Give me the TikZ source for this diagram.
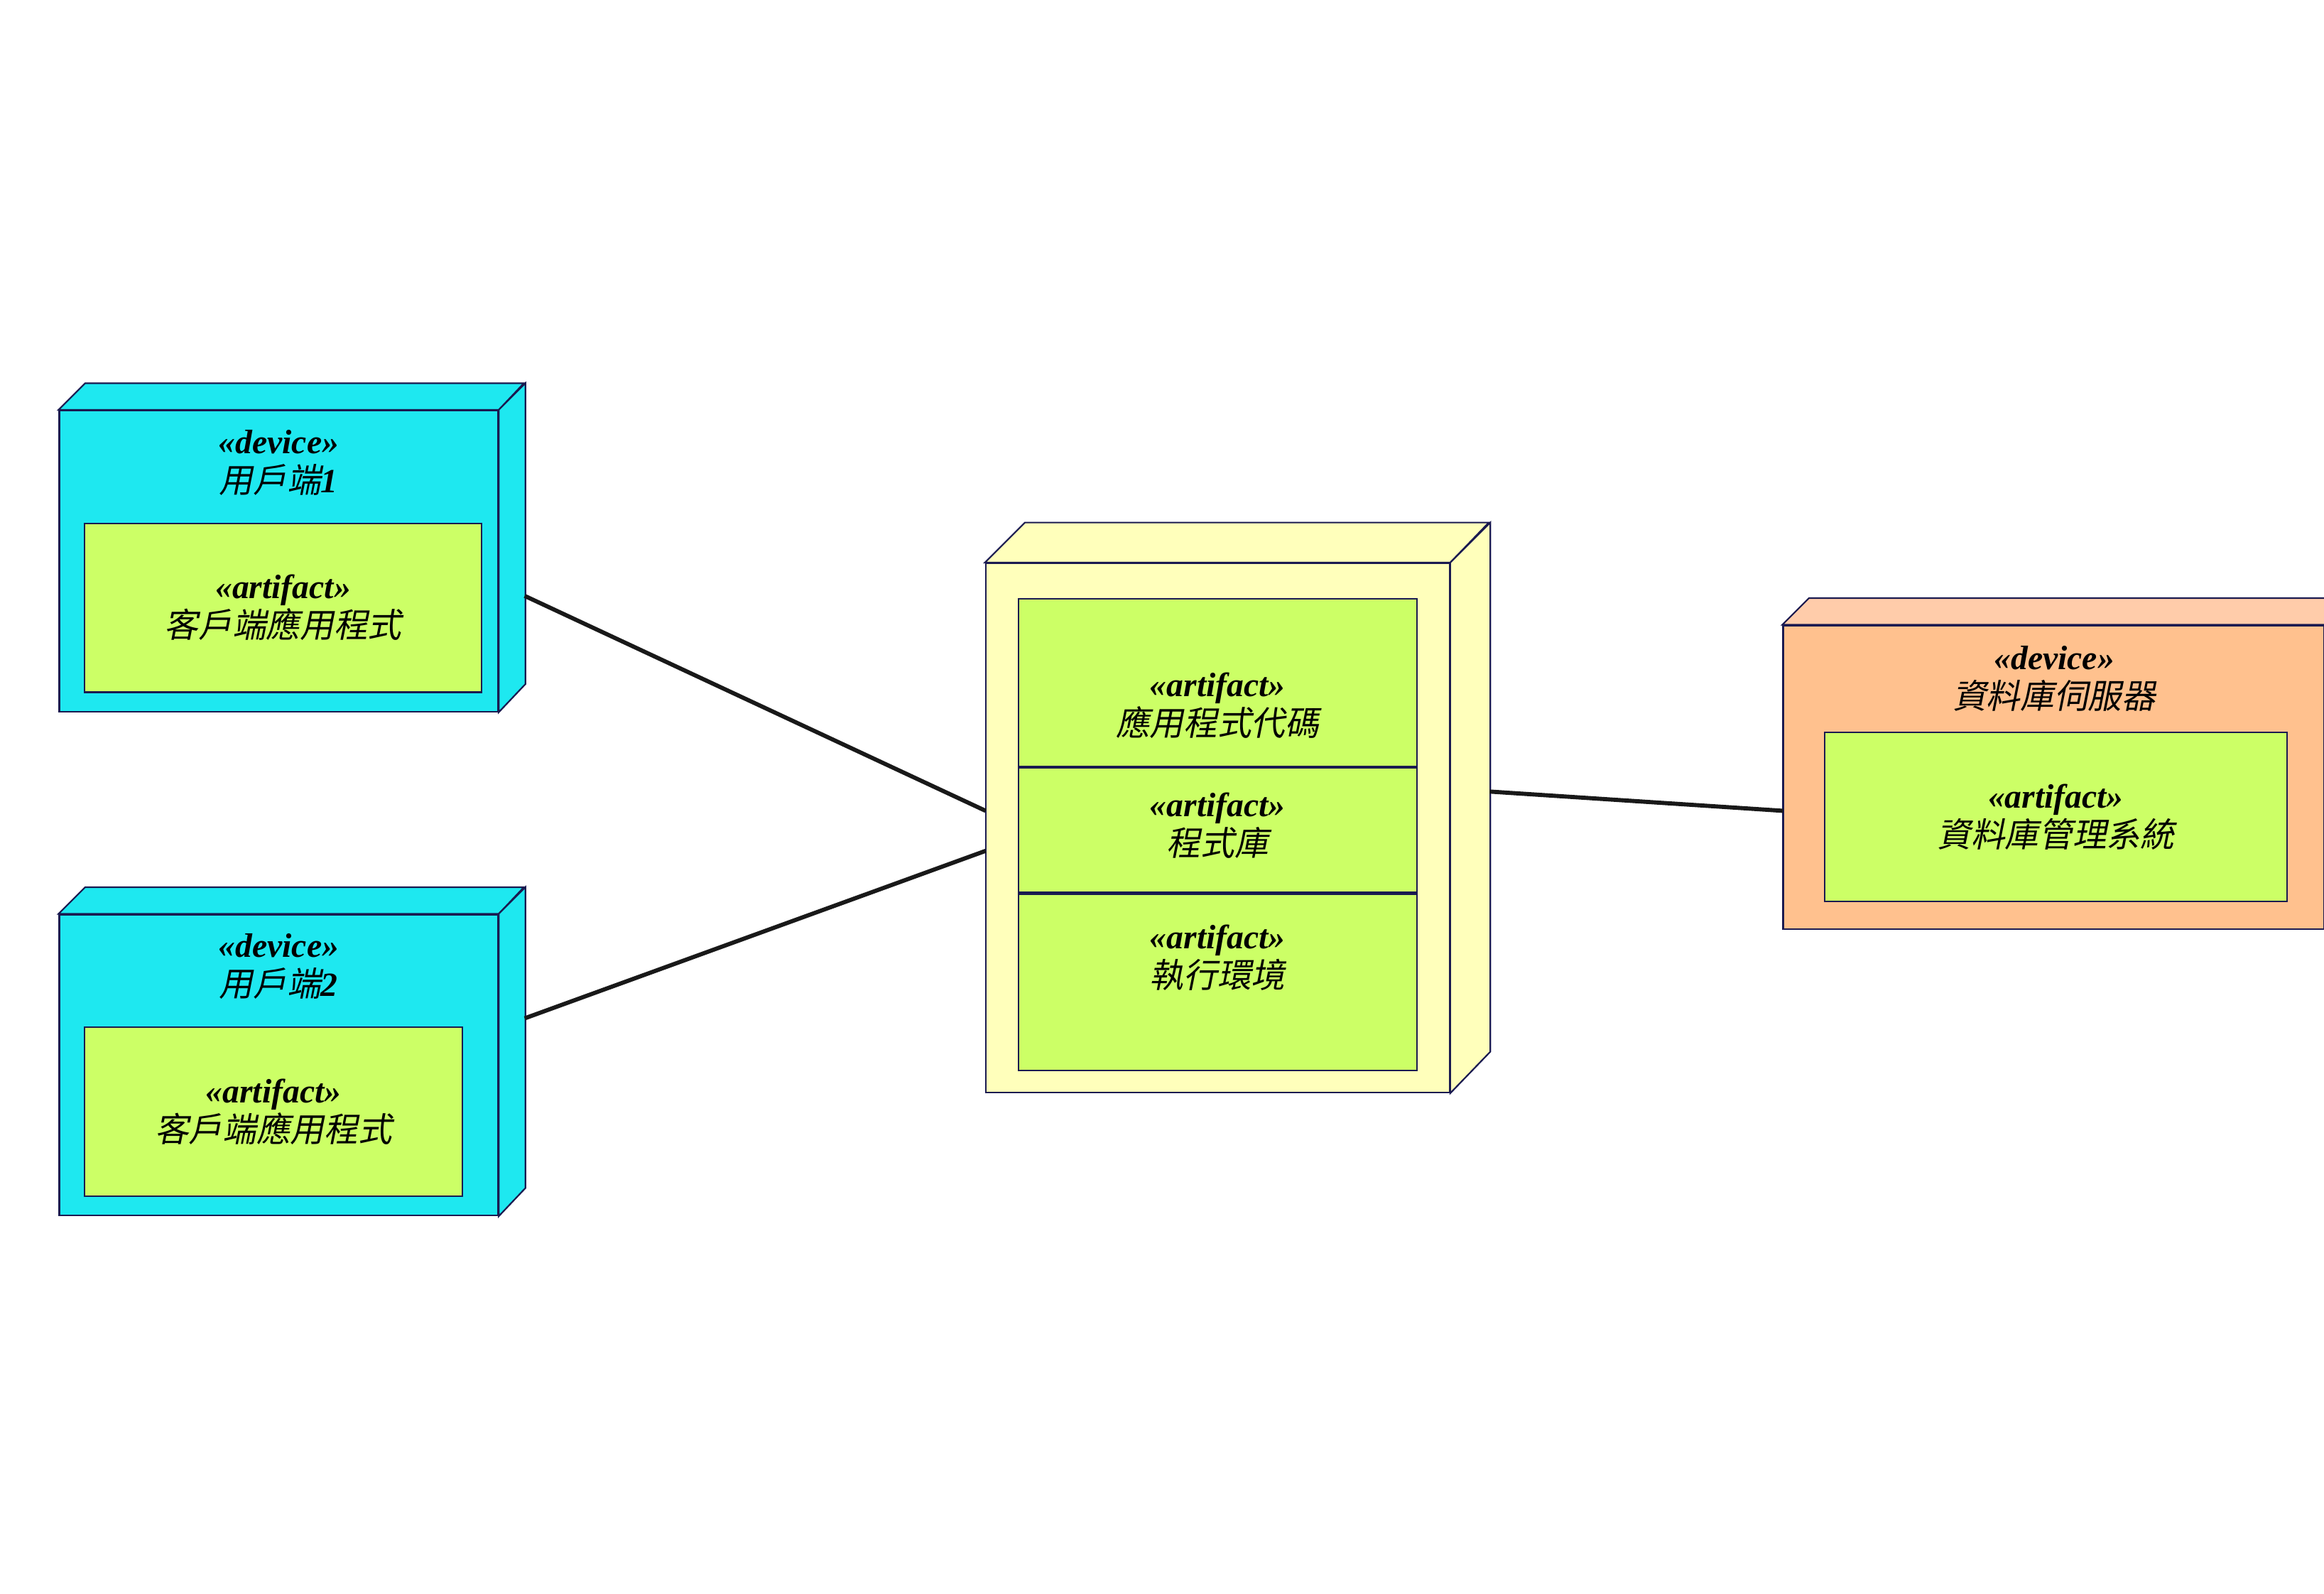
\documentclass[tikz,border=0pt]{standalone}
\usepackage{fontspec}
\setmainfont{Liberation Serif}
\newfontfamily\cjk[FakeSlant=0.2]{Noto Sans CJK TC}
\usetikzlibrary{positioning}
\definecolor{devcyan}{HTML}{1EE8F0}
\definecolor{artgreen}{HTML}{CCFF66}
\definecolor{srvyellow}{HTML}{FFFFBB}
\definecolor{dbfront}{HTML}{FFC18E}
\definecolor{dbtop}{HTML}{FFCCAA}
\definecolor{edgenavy}{HTML}{1A1A50}
\newcommand\Dp{18}
\newcommand\stereo[1]{\textbf{\textit{<<#1>>}}}

\begin{document}
\begin{tikzpicture}[x=0.02cm,y=-0.02cm,
                    font=\fontsize{13}{15}\selectfont]

  \tikzset{face/.style={draw=edgenavy,line width=0.6pt},
           front/.style={face,rectangle,inner sep=0pt},
           artifact/.style={face,fill=artgreen,align=center,inner sep=0pt},
           title/.style={align=center,inner sep=1pt},
           link/.style={line width=1.6pt,draw=black!90}}

  \useasboundingbox (0,0) rectangle (1568,1075);

  % client 1
  \node[front,fill=devcyan,minimum width=5.92cm,minimum height=4.06cm] (C1) at (188,378.5) {};
  \filldraw[devcyan,face] (C1.north west) -- ++(\Dp,-\Dp) -- ++(296,0) -- (C1.north east) -- cycle;
  \filldraw[devcyan,face] (C1.north east) -- ++(\Dp,-\Dp) -- ++(0,203) -- (C1.south east) -- cycle;
  \node[title] (C1t) at (188,312) {\stereo{device}\\{\cjk 用戶端}\textbf{\textit{1}}};
  \node[artifact,minimum width=5.36cm,minimum height=2.28cm] (A1) at (191,410) {\stereo{artifact}\\{\cjk 客戶端應用程式}};
  \coordinate (C1r) at (354,402);

  % client 2
  \node[front,fill=devcyan,minimum width=5.92cm,minimum height=4.06cm] (C2) at (188,718.5) {};
  \filldraw[devcyan,face] (C2.north west) -- ++(\Dp,-\Dp) -- ++(296,0) -- (C2.north east) -- cycle;
  \filldraw[devcyan,face] (C2.north east) -- ++(\Dp,-\Dp) -- ++(0,203) -- (C2.south east) -- cycle;
  \node[title] (C2t) at (188,652) {\stereo{device}\\{\cjk 用戶端}\textbf{\textit{2}}};
  \node[artifact,minimum width=5.1cm,minimum height=2.28cm] (A2) at (184.5,750) {\stereo{artifact}\\{\cjk 客戶端應用程式}};
  \coordinate (C2r) at (354,687);

  % application server
  \node[front,fill=srvyellow,minimum width=6.26cm,minimum height=7.14cm] (S) at (821.5,558.5) {};
  \filldraw[srvyellow,face] (S.north west) -- ++(27,-27) -- ++(313,0) -- (S.north east) -- cycle;
  \filldraw[srvyellow,face] (S.north east) -- ++(27,-27) -- ++(0,357) -- (S.south east) -- cycle;
  \node[artifact,minimum width=5.38cm,minimum height=2.26cm] (Sa) at (821.5,460.5) {};
  \node[artifact,minimum width=5.38cm,minimum height=1.68cm,below=0pt of Sa] (Sb) {};
  \node[artifact,minimum width=5.38cm,minimum height=2.38cm,below=0pt of Sb] (Sc) {};
  \node[title] (Sat) at (821.5,476) {\stereo{artifact}\\{\cjk 應用程式代碼}};
  \node[title] (Sbt) at (821.5,557) {\stereo{artifact}\\{\cjk 程式庫}};
  \node[title] (Sct) at (821.5,646) {\stereo{artifact}\\{\cjk 執行環境}};
  \coordinate (Sl1) at (665,547);
  \coordinate (Sl2) at (665,574);
  \coordinate (Sr) at (1005,534);

  % database server
  \node[front,fill=dbfront,minimum width=7.3cm,minimum height=4.1cm] (DB) at (1385.5,524.5) {};
  \filldraw[dbtop,face] (DB.north west) -- ++(\Dp,-\Dp) -- ++(365,0) -- (DB.north east) -- cycle;
  \node[title] (DBt) at (1386,458) {\stereo{device}\\{\cjk 資料庫伺服器}};
  \node[artifact,minimum width=6.24cm,minimum height=2.28cm] (DBa) at (1387,551) {\stereo{artifact}\\{\cjk 資料庫管理系統}};
  \coordinate (DBl) at (1203,547);

  \draw[link] (C1r) -- (Sl1);
  \draw[link] (C2r) -- (Sl2);
  \draw[link] (Sr) -- (DBl);
\end{tikzpicture}
\end{document}
